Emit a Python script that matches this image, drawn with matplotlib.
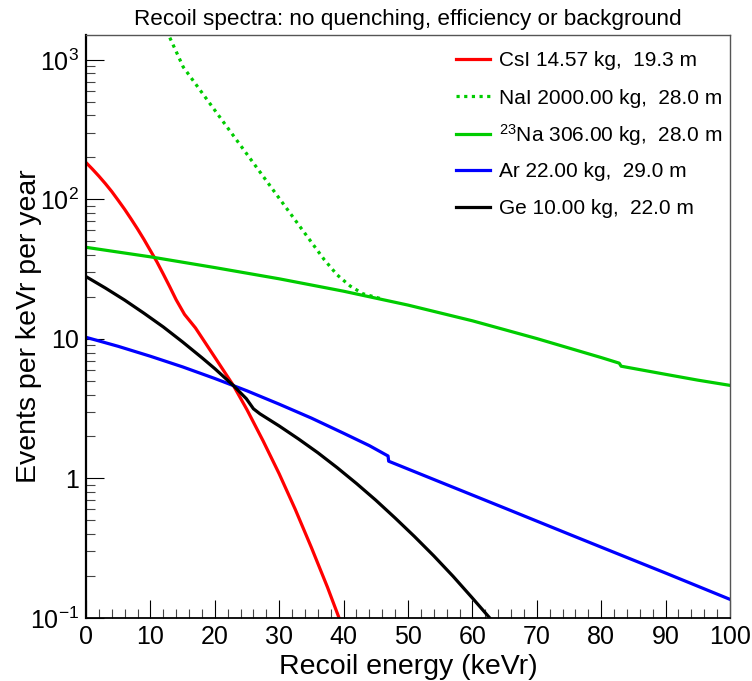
import matplotlib
matplotlib.use("Agg")
import matplotlib.pyplot as plt
from matplotlib.legend import Legend
from matplotlib.ticker import MultipleLocator, LogLocator, FixedLocator, NullFormatter

plt.rcParams['font.family'] = ['Liberation Sans', 'DejaVu Sans']
plt.rcParams['mathtext.fontset'] = 'custom'
plt.rcParams['mathtext.rm'] = 'Liberation Sans'
plt.rcParams['mathtext.it'] = 'Liberation Sans'
plt.rcParams['mathtext.bf'] = 'Liberation Sans'

# ---- data ----
csi_E = [0, 1, 2, 3, 4, 5, 6, 7, 8, 9, 10, 11, 12, 13, 14, 15.3, 17, 20, 22.9, 25, 27.5, 30,
         32.5, 35, 37.5, 39.3, 40]
csi_v = [184, 165, 147, 130, 114, 98.6, 85, 72.5, 61.5, 51.7, 43, 35.8, 29.2, 23.7, 19.1, 15.0,
         12.0, 7.4, 4.63, 3.11, 1.86, 1.08, 0.60, 0.32, 0.166, 0.100, 0.082]

nai_E = [12.5, 13, 14, 15.1, 20, 25, 30, 35, 37, 39, 41, 43, 45.7]
nai_v = [1620, 1450, 1150, 890, 436, 211, 102, 49.4, 37, 28.8, 24.0, 21.1, 19.5]

na_E = [0, 10, 20, 30, 40, 50, 60, 70, 80, 82.8, 83.1, 90, 95, 100]
na_v = [45.4, 38.8, 32.5, 27.0, 22.0, 17.5, 13.5, 10.07, 7.36, 6.71, 6.38, 5.58, 5.07, 4.65]

ar_E = [0, 5, 10, 15, 20, 25, 30, 35, 40, 44, 46.9, 47.0, 55, 60, 65, 70, 75, 80, 85, 90, 95, 100]
ar_v = [10.28, 8.86, 7.52, 6.31, 5.21, 4.25, 3.41, 2.71, 2.11, 1.72, 1.45, 1.33, 0.943, 0.761,
        0.614, 0.495, 0.399, 0.322, 0.260, 0.210, 0.169, 0.136]

ge_E = [0, 3, 6, 9, 12, 15, 18, 20, 22.9, 24.9, 26, 27, 30, 33, 36, 39, 42, 45, 48, 51, 54, 57,
        60, 63]
ge_v = [28, 23.2, 19.0, 15.3, 12.2, 9.52, 7.34, 6.13, 4.63, 3.73, 3.16, 2.91, 2.38, 1.92, 1.53,
        1.196, 0.921, 0.699, 0.521, 0.384, 0.279, 0.199, 0.139, 0.0964]

labels = ["CsI 14.57 kg,  19.3 m",
          "NaI 2000.00 kg,  28.0 m",
          r"$^{23}$Na 306.00 kg,  28.0 m",
          "Ar 22.00 kg,  29.0 m",
          "Ge 10.00 kg,  22.0 m"]

ytick_vals = [0.1, 1, 10, 100, 1000]
ytick_labels = [r"$10^{-1}$", "1", "10", r"$10^{2}$", r"$10^{3}$"]
xtick_vals = [0, 10, 20, 30, 40, 50, 60, 70, 80, 90, 100]

title = "Recoil spectra: no quenching, efficiency or background"
xlabel = "Recoil energy (keVr)"
ylabel = "Events per keVr per year"

# ---- figure ----
W, H = 752, 681
fig = plt.figure(figsize=(W / 100, H / 100), dpi=100)
AX_L, AX_R, AX_T, AX_B = 86, 730, 35, 618
ax = fig.add_axes([AX_L / W, 1 - AX_B / H, (AX_R - AX_L) / W, (AX_B - AX_T) / H])

lw = 2.3
green = '#00cc00'
h1, = ax.plot(csi_E, csi_v, color='#ff0000', lw=lw)
h2, = ax.plot(nai_E, nai_v, color=green, lw=lw, linestyle=(0, (1, 1.4)))
h3, = ax.plot(na_E, na_v, color=green, lw=lw)
h4, = ax.plot(ar_E, ar_v, color='#0000ff', lw=lw)
h5, = ax.plot(ge_E, ge_v, color='black', lw=lw)

ax.set_yscale('log')
ax.set_xlim(0, 100)
ax.set_ylim(0.1, 1510)

ax.xaxis.set_major_locator(FixedLocator(xtick_vals))
ax.xaxis.set_minor_locator(MultipleLocator(2))
ax.set_yticks(ytick_vals)
ax.set_yticklabels(ytick_labels)
ax.yaxis.set_minor_locator(LogLocator(base=10, subs=range(2, 10)))
ax.yaxis.set_minor_formatter(NullFormatter())

ax.tick_params(axis='both', which='major', direction='in', length=13, width=0.8,
               labelsize=18, top=False, right=False, color='black')
ax.tick_params(axis='both', which='minor', direction='in', length=6.5, width=0.8,
               top=False, right=False, color='#444444')
ax.tick_params(axis='x', which='major', pad=5)
ax.tick_params(axis='y', which='major', pad=5)

ax.spines['left'].set_linewidth(1.6)
ax.spines['bottom'].set_linewidth(1.3)
ax.spines['top'].set_linewidth(1.0)
ax.spines['right'].set_linewidth(1.0)
ax.spines['top'].set_color('#555555')
ax.spines['right'].set_color('#555555')

ax.set_xlabel(xlabel, fontsize=20.5, labelpad=4)
ax.set_ylabel(ylabel, fontsize=20.5)
ax.yaxis.set_label_coords((42 - AX_L) / (AX_R - AX_L), 0.5)
ax.set_title(title, fontsize=16.2, pad=7.5)

# legend: one row per entry, positioned like the reference
row_y = [61, 98, 135, 172, 209]
handles = [h1, h2, h3, h4, h5]
for h, lab, y in zip(handles, labels, row_y):
    lg = Legend(ax, [h], [lab], loc='center left',
                bbox_to_anchor=((456 - AX_L) / (AX_R - AX_L), (AX_B - y) / (AX_B - AX_T)),
                bbox_transform=ax.transAxes,
                frameon=False, fontsize=15, handlelength=1.63, handletextpad=0.43,
                borderpad=0, borderaxespad=0)
    ax.add_artist(lg)

fig.savefig('out.png', dpi=100)
